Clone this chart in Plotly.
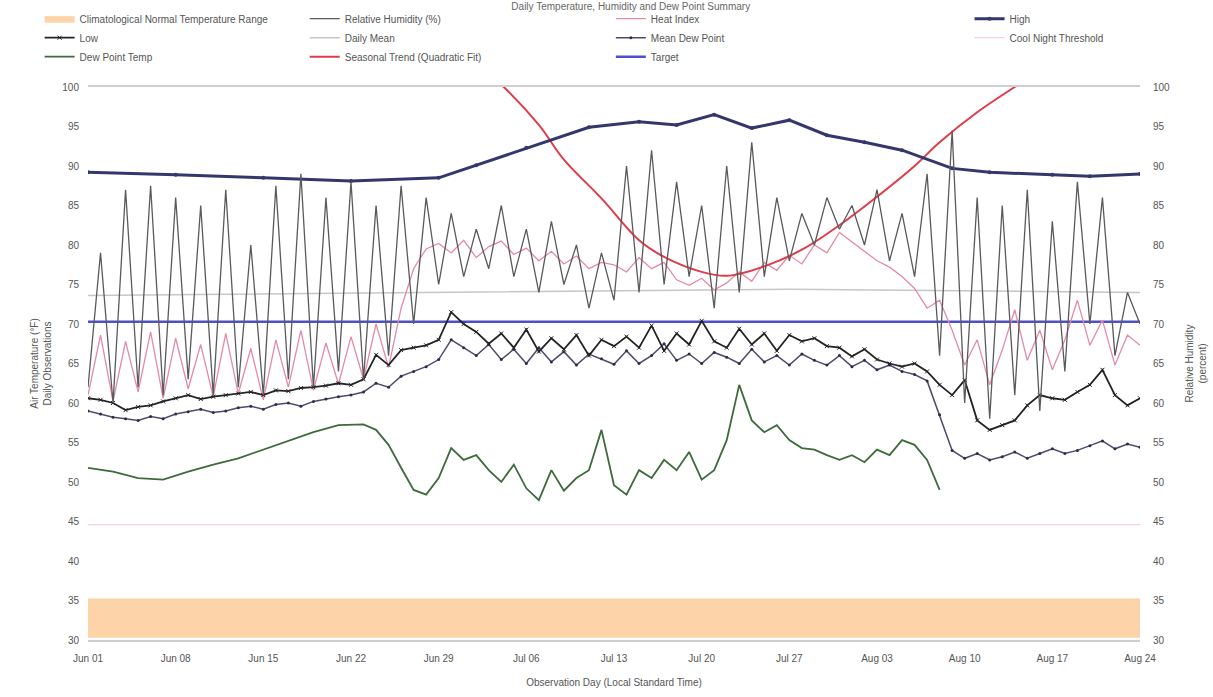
import pandas as pd
import plotly.graph_objects as go

# ---- data -------------------------------------------------------------
start = pd.Timestamp("2023-06-01")
days = list(range(85))  # one sample per day, 12 weeks

# daily relative humidity peak (%), right axis
humidity = [62, 79, 60, 87, 62, 87.5, 61, 86, 63, 85,
            61, 87, 62, 80, 61, 87.5, 63, 89, 62, 86,
            64, 88, 63, 85, 66, 87.5, 70, 86, 75, 84,
            76, 82, 77, 85, 76, 82, 74, 83, 75, 80,
            72, 79, 73, 90, 74, 92, 75, 88, 76, 85,
            72, 90, 74, 93, 76, 86, 78, 84, 80, 86,
            82, 85, 80, 87, 78, 84, 76, 89, 66, 94.5,
            60, 86, 58, 85, 61, 87, 59, 83, 64, 88,
            70, 86, 66, 74, 70]

# daily low temperature (°F)
low_temp = [60.6, 60.4, 60.0, 59.1, 59.5, 59.7, 60.2, 60.6, 61.0, 60.5,
            60.8, 61.0, 61.2, 61.4, 61.0, 61.6, 61.5, 61.9, 62.0, 62.2,
            62.5, 62.3, 63.0, 66.1, 64.8, 66.7, 67.0, 67.3, 68.0, 71.5,
            70.0, 69.0, 67.5, 68.8, 67.0, 69.3, 66.5, 68.2, 66.8, 68.6,
            66.0, 68.0, 67.2, 68.4, 67.0, 69.8, 66.6, 68.8, 67.4, 70.4,
            67.8, 67.0, 69.4, 67.4, 68.8, 66.6, 68.6, 67.8, 68.2, 67.2,
            67.0, 65.9, 66.8, 65.5, 65.0, 64.6, 65.0, 64.0, 62.3, 61.0,
            62.9, 57.8, 56.6, 57.2, 57.8, 59.7, 61.0, 60.6, 60.4, 61.4,
            62.3, 64.2, 61.0, 59.7, 60.6]

# daily mean dew point (°F)
mean_dew = [59.0, 58.6, 58.2, 58.0, 57.8, 58.3, 58.0, 58.6, 58.9, 59.2,
            58.8, 59.0, 59.4, 59.6, 59.2, 59.8, 60.0, 59.6, 60.2, 60.5,
            60.8, 61.0, 61.4, 62.5, 62.0, 63.4, 64.0, 64.6, 65.5, 68.0,
            67.0, 66.0, 67.4, 65.5, 66.8, 65.0, 67.0, 65.2, 66.5, 64.8,
            66.2, 65.6, 64.9, 66.6, 65.0, 66.0, 67.5, 65.4, 66.2, 65.0,
            66.4, 65.8, 65.0, 66.8, 65.2, 66.0, 64.8, 66.2, 65.4, 64.8,
            66.0, 64.6, 65.4, 64.2, 64.8, 64.0, 63.6, 62.8, 58.5, 54.0,
            53.0, 53.6, 52.8, 53.2, 53.8, 53.0, 53.6, 54.2, 53.6, 54.0,
            54.6, 55.2, 54.2, 54.8, 54.4]

# daily heat index (°F)
heat_index = [61.0, 68.6, 60.2, 67.8, 61.4, 69.0, 60.6, 68.2, 61.8, 67.4,
              60.8, 68.8, 61.2, 66.9, 60.4, 68.0, 62.0, 69.2, 61.6, 67.6,
              62.4, 68.4, 63.0, 70.0, 64.5, 72.0, 77.0, 79.5, 80.2, 79.0,
              80.6, 78.4, 79.8, 80.5, 78.8, 79.6, 78.0, 79.2, 77.6, 78.6,
              77.0, 77.8, 77.5, 76.6, 78.4, 77.0, 77.8, 75.6, 74.9, 75.8,
              74.3, 75.2, 76.6, 75.4, 77.8, 76.8, 78.7, 77.6, 80.0, 79.0,
              81.6, 80.4, 79.2, 78.0, 77.2, 76.0, 74.5, 72.0, 73.0, 69.2,
              64.8, 68.0, 62.3, 66.7, 71.8, 65.4, 69.2, 64.2, 68.0, 73.0,
              67.3, 70.5, 64.8, 68.6, 67.3]

# dew point temperature (°F)
dew_days = [0, 2, 4, 6, 8, 10, 12, 14, 16, 18, 20, 22, 23, 24, 25, 26, 27, 28,
            29, 30, 31, 32, 33, 34, 35, 36, 37, 38, 39, 40, 41, 42, 43, 44, 45,
            46, 47, 48, 49, 50, 51, 52, 53, 54, 55, 56, 57, 58, 59, 60, 61, 62,
            63, 64, 65, 66, 67, 68]
dew_point = [51.8, 51.3, 50.5, 50.3, 51.3, 52.2, 53.0, 54.1, 55.1, 56.3, 57.2,
             57.3, 56.6, 54.7, 51.8, 49.0, 48.4, 50.5, 54.3, 52.8, 53.4, 51.5,
             50.0, 52.2, 49.2, 47.7, 51.5, 48.9, 50.5, 51.5, 56.6, 49.6, 48.4,
             51.5, 50.5, 52.8, 51.5, 53.8, 50.3, 51.5, 55.3, 62.3, 57.8, 56.3,
             57.2, 55.3, 54.3, 54.1, 53.4, 52.8, 53.4, 52.5, 54.1, 53.4, 55.3,
             54.7, 52.8, 49.0]

# daily high temperature (°F), weekly-ish readings
high_days = [0, 7, 14, 21, 28, 31, 35, 40, 44, 47, 50, 53, 56, 59, 62, 65, 69,
             72, 77, 80, 84]
high_temp = [89.2, 88.9, 88.5, 88.1, 88.5, 90.1, 92.3, 94.9, 95.6, 95.2, 96.5,
             94.8, 95.8, 93.9, 93.0, 92.0, 89.7, 89.2, 88.9, 88.7, 89.0]

# seasonal trend fit (°F)
trend_days = [31, 33, 36, 38, 41, 44, 46, 49, 51, 54, 57, 60, 63, 66, 68, 71,
              74, 77]
trend_temp = [103.0, 100.3, 95.2, 90.8, 85.9, 80.6, 78.5, 76.6, 76.1, 77.3,
              79.4, 82.5, 86.1, 90.0, 93.0, 96.8, 100.0, 103.0]

# reference levels (°F)
span_days = [0, 84]
target_temp = [70.3, 70.3]
cool_night = [44.6, 44.6]
mean_days = [0, 28, 56, 84]
daily_mean = [73.6, 74.0, 74.4, 74.0]
normal_upper = [35.2, 35.2]
normal_lower = [30.3, 30.3]

tick_days = [0, 7, 14, 21, 28, 35, 42, 49, 56, 63, 70, 77, 84]


def to_dates(offsets):
    return [start + pd.Timedelta(days=int(d)) for d in offsets]


# ---- figure -----------------------------------------------------------
fig = go.Figure()

fig.add_trace(go.Scatter(
    x=to_dates(span_days), y=normal_lower, mode="lines",
    line=dict(width=0, color="rgba(250,185,120,0.6)"),
    showlegend=False, hoverinfo="skip"))
fig.add_trace(go.Scatter(
    x=to_dates(span_days), y=normal_upper, mode="lines", fill="tonexty",
    fillcolor="rgba(252,188,125,0.65)",
    line=dict(width=1, color="rgba(250,205,160,0.8)"),
    name="Climatological Normal Temperature Range", legend="legend",
    legendrank=1))

fig.add_trace(go.Scatter(
    x=to_dates(span_days), y=cool_night, mode="lines",
    line=dict(width=1.2, color="rgba(240,170,190,0.55)"),
    name="Cool Night Threshold", legend="legend4", legendrank=2))

fig.add_trace(go.Scatter(
    x=to_dates(mean_days), y=daily_mean, mode="lines",
    line=dict(width=1.5, color="#c9c4c8"),
    name="Daily Mean", legend="legend2", legendrank=2))

fig.add_trace(go.Scatter(
    x=to_dates(span_days), y=target_temp, mode="lines",
    line=dict(width=2.5, color="#4f4fc8"),
    name="Target", legend="legend3", legendrank=3))

fig.add_trace(go.Scatter(
    x=to_dates(days), y=heat_index, mode="lines",
    line=dict(width=1.3, color="#e58aa6"),
    name="Heat Index", legend="legend3", legendrank=1))

fig.add_trace(go.Scatter(
    x=to_dates(days), y=humidity, mode="lines", yaxis="y2",
    line=dict(width=1.3, color="#5a5a5a"),
    name="Relative Humidity (%)", legend="legend2", legendrank=1))

fig.add_trace(go.Scatter(
    x=to_dates(days), y=mean_dew, mode="lines+markers",
    line=dict(width=1.5, color="#4b4b70"),
    marker=dict(size=3, color="#2e2e48"),
    name="Mean Dew Point", legend="legend3", legendrank=2))

fig.add_trace(go.Scatter(
    x=to_dates(days), y=low_temp, mode="lines+markers",
    line=dict(width=1.8, color="#232323"),
    marker=dict(size=4, symbol="x-thin", line=dict(width=1, color="#232323")),
    name="Low", legend="legend", legendrank=2))

fig.add_trace(go.Scatter(
    x=to_dates(dew_days), y=dew_point, mode="lines",
    line=dict(width=1.8, color="#3e6a3c"),
    name="Dew Point Temp", legend="legend", legendrank=3))

fig.add_trace(go.Scatter(
    x=to_dates(trend_days), y=trend_temp, mode="lines",
    line=dict(width=2, color="#de3c48", shape="spline"),
    name="Seasonal Trend (Quadratic Fit)", legend="legend2", legendrank=3))

fig.add_trace(go.Scatter(
    x=to_dates(high_days), y=high_temp, mode="lines+markers",
    line=dict(width=3, color="#34376c"),
    marker=dict(size=4, color="#34376c"),
    name="High", legend="legend4", legendrank=1))

# ---- layout -----------------------------------------------------------
axis_font = dict(family="Liberation Sans, Arial, sans-serif", size=10,
                 color="#555555")
legend_common = dict(
    orientation="v", yref="container", yanchor="top", xanchor="left",
    y=0.994, traceorder="normal",
    bgcolor="rgba(0,0,0,0)", borderwidth=0,
    font=dict(family="Liberation Sans, Arial, sans-serif", size=10,
              color="#555555"),
    itemwidth=30, tracegroupgap=0)

fig.update_layout(
    width=1213, height=697,
    margin=dict(l=88, r=73, t=87, b=57),
    paper_bgcolor="white", plot_bgcolor="white",
    font=axis_font,
    title=dict(text="Daily Temperature, Humidity and Dew Point Summary",
               x=0.52, xanchor="center", y=0.991, yanchor="middle",
               font=dict(size=10, color="#666666")),
    legend=dict(legend_common, x=-0.046),
    legend2=dict(legend_common, x=0.206),
    legend3=dict(legend_common, x=0.497),
    legend4=dict(legend_common, x=0.838),
    xaxis=dict(
        range=[start, start + pd.Timedelta(days=84)],
        tickvals=to_dates(tick_days), tickformat="%b %d",
        showgrid=False, zeroline=False,
        showline=True, linecolor="#cfcfcf", linewidth=1.5, mirror=True,
        ticks="outside", ticklen=8, tickcolor="rgba(0,0,0,0)",
        title=dict(text="Observation Day (Local Standard Time)",
                   standoff=16, font=dict(size=10, color="#555555")),
        automargin=False),
    yaxis=dict(
        range=[30, 100], dtick=5, showgrid=False, zeroline=False,
        ticks="outside", ticklen=6, tickcolor="rgba(0,0,0,0)",
        title=dict(text="Air Temperature (°F)<br>Daily Observations",
                   standoff=8, font=dict(size=10, color="#555555")),
        automargin=False),
    yaxis2=dict(
        range=[30, 100], dtick=5, overlaying="y", side="right",
        showgrid=False, zeroline=False,
        ticks="outside", ticklen=10, tickcolor="rgba(0,0,0,0)",
        title=dict(text="Relative Humidity<br>(percent)",
                   standoff=16, font=dict(size=10, color="#555555")),
        automargin=False),
)

fig.write_html("out.html")
